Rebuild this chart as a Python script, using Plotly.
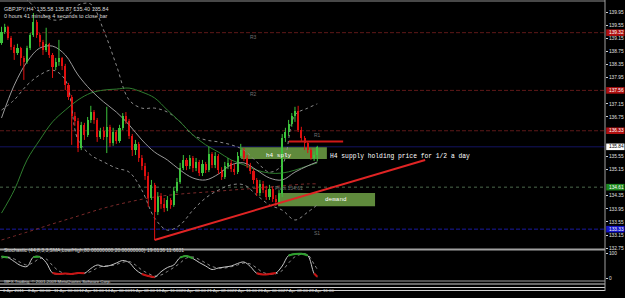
import plotly.graph_objects as go

# ---------------- data ----------------
first_open = 139.01
close = [139.34, 139.50, 139.16, 138.89, 138.70, 138.86, 138.55, 138.43, 138.86, 139.25,
         139.65, 139.25, 139.04, 138.79, 138.98, 138.64, 138.28, 138.43, 138.55, 138.31,
         137.73, 137.36, 136.78, 136.63, 135.81, 136.51, 136.20, 136.66, 136.90, 136.66,
         136.14, 136.32, 136.14, 136.45, 135.96, 136.29, 136.02, 136.42, 136.78, 136.63,
         136.17, 135.74, 135.93, 135.50, 135.26, 134.95, 134.28, 134.68, 133.85, 134.34,
         134.10, 133.98, 134.22, 134.07, 134.49, 134.77, 135.19, 135.44, 135.26, 135.50,
         135.19, 135.38, 135.04, 135.32, 135.13, 135.62, 135.29, 135.56, 135.13, 134.92,
         135.26, 135.35, 135.16, 135.07, 135.56, 135.74, 135.50, 135.29, 135.10, 134.83,
         134.43, 134.71, 134.52, 134.31, 134.55, 134.25, 134.16, 134.40, 136.11, 136.29,
         136.54, 136.78, 136.93, 136.35, 136.11, 135.96, 135.74, 135.50, 135.58, 135.84]
high = [139.50, 139.59, 139.53, 139.22, 138.95, 138.98, 138.89, 138.61, 138.92, 139.31,
        139.92, 139.71, 139.31, 139.10, 139.47, 139.01, 138.70, 138.55, 139.10, 138.58,
        138.37, 137.79, 137.42, 136.90, 136.72, 136.60, 136.57, 136.75, 137.09, 136.96,
        136.72, 136.42, 136.45, 137.06, 136.51, 136.42, 136.35, 136.51, 136.87, 136.90,
        136.69, 136.23, 136.05, 135.99, 135.59, 135.35, 135.07, 134.83, 134.74, 134.46,
        134.43, 134.28, 134.34, 134.28, 134.62, 134.89, 135.35, 135.59, 135.50, 135.59,
        135.56, 135.50, 135.44, 135.44, 135.38, 135.84, 135.68, 135.68, 135.62, 135.22,
        135.38, 135.50, 135.44, 135.32, 135.68, 135.93, 135.80, 135.59, 135.35, 135.16,
        134.89, 134.83, 134.80, 134.65, 134.68, 134.62, 134.37, 134.52, 136.23, 136.42,
        136.66, 136.87, 137.06, 137.09, 136.45, 136.17, 135.99, 135.80, 135.70, 135.87]
low = [138.95, 139.28, 139.10, 138.79, 138.49, 138.64, 138.31, 137.88, 138.37, 138.79,
       139.19, 139.16, 138.89, 138.64, 138.73, 138.55, 137.94, 138.18, 138.31, 138.18,
       137.57, 137.27, 135.90, 136.48, 135.68, 135.74, 136.05, 136.14, 136.57, 136.54,
       135.99, 136.08, 136.05, 135.65, 135.84, 135.87, 135.93, 135.96, 136.35, 136.54,
       136.08, 135.56, 135.59, 135.38, 135.13, 134.83, 134.01, 134.22, 133.00, 133.76,
       133.95, 133.85, 133.88, 133.95, 134.01, 134.43, 134.71, 135.13, 135.13, 135.16,
       135.07, 135.10, 134.95, 134.95, 135.04, 135.07, 135.19, 135.19, 135.01, 134.83,
       134.86, 135.16, 135.07, 134.98, 135.01, 135.50, 135.41, 135.19, 135.01, 134.71,
       134.34, 134.34, 134.43, 134.22, 134.22, 134.16, 134.04, 134.07, 134.31, 135.99,
       136.17, 136.45, 136.60, 136.29, 136.02, 135.74, 135.65, 135.44, 135.41, 135.40]

# indicator lines sampled at these bars
ind_idx = [0, 4, 8, 12, 16, 20, 24, 28, 32, 36, 40, 44, 48, 52, 56, 60, 64, 68, 72, 76, 80, 84, 88, 92, 96, 99]
ma_fast = [136.72, 137.72, 138.43, 138.85, 138.91, 138.64, 138.03, 137.57, 137.21, 136.90, 136.51, 136.05, 135.68,
           135.44, 135.13, 134.89, 134.83, 135.01, 135.29, 135.35, 135.13, 134.89, 134.83, 135.07, 135.26, 135.38]
ma_slow = [133.82, 134.52, 135.44, 136.05, 136.60, 136.96, 137.27, 137.48, 137.57, 137.60, 137.63, 137.51, 137.33,
           136.96, 136.60, 136.20, 135.90, 135.68, 135.44, 135.29, 135.13, 135.04, 135.04, 135.13, 135.26, 135.35]
bb_upper = [140.93, 140.62, 140.32, 139.95, 139.71, 139.77, 140.16, 140.19, 139.40, 138.33, 137.27, 137.02, 137.02,
            136.90, 136.60, 136.20, 136.05, 135.99, 135.90, 135.74, 135.38, 135.07, 135.29, 136.81, 137.02, 137.15]
bb_lower = [136.96, 137.27, 137.72, 138.03, 138.18, 137.88, 136.05, 135.59, 135.38, 135.19, 135.07, 134.52, 133.67,
            133.30, 133.46, 133.91, 134.28, 134.52, 134.68, 134.68, 134.37, 134.07, 133.91, 133.61, 133.85, 134.07]
ma_long_idx = [0, 8, 16, 24, 32, 40, 48, 56, 64, 72, 80, 88, 96, 99]
ma_long = [133.00, 133.24, 133.49, 133.73, 133.97, 134.16, 134.31, 134.40, 134.46, 134.52, 134.58, 134.65, 134.71, 134.71]

# stochastic
st_idx = list(range(0, 100, 2)) + [99]
st_k = [86, 82, 66, 50, 46, 84, 85, 62, 20, 16, 18, 16, 20, 19, 38, 52, 46, 50, 60, 70,
        62, 34, 16, 8, 3, 25, 42, 52, 82, 88, 78, 62, 48, 34, 40, 44, 48, 58, 64, 46,
        19, 14, 16, 20, 48, 90, 96, 97, 90, 18, 5]
st_d = [80, 84, 76, 62, 52, 62, 78, 76, 50, 28, 18, 17, 18, 19, 26, 40, 48, 49, 54, 63,
        66, 52, 32, 18, 8, 12, 26, 42, 60, 80, 84, 74, 60, 46, 40, 40, 45, 52, 60, 56,
        40, 22, 16, 17, 30, 60, 85, 95, 93, 55, 35]

# pivot levels
pivots = {"R3": 139.32, "R2": 137.56, "R1": 136.33, "Pivot": 134.61, "S1": 133.33}
bid = 135.84

date_idx = [0, 8, 16, 24, 32, 40, 48, 56, 64, 72, 80, 88, 96]
date_lbl = ["6 Apr 2011", "8 Apr 00:00", "11 Apr 00:00", "12 Apr 16:00", "14 Apr 00:00", "15 Apr 08:00",
            "18 Apr 16:00", "20 Apr 00:00", "21 Apr 08:00", "22 Apr 16:00", "26 Apr 00:00", "27 Apr 08:00",
            "28 Apr 16:00"]
price_ticks = [139.95, 139.55, 139.15, 138.75, 138.35, 137.95, 137.15, 136.75,
               135.55, 135.15, 134.35, 133.95, 133.55, 133.15, 132.75]

# drawn objects
supply_zone = dict(x0=75.1, x1=102.0, y0=135.47, y1=135.83)
demand_zone = dict(x0=86.7, x1=117.1, y0=134.03, y1=134.43)
red_level = dict(x0=90.1, x1=107.1, y=136.00)
trend = dict(x0=48, y0=133.00, x1=132.8, y1=135.44)

# ---------------- figure ----------------
n = len(close)
idx = list(range(n))
opens = [first_open] + close[:-1]

UP = "#3cc43c"
DN = "#e01010"

W = 625
H = 298
PR = 20
PB = 7
PW = W - PR
PH = H - PB
XR = [-0.47, -0.47 + PW / 3.19]

fig = go.Figure()

# indicator lines (behind candles)
fig.add_trace(go.Scatter(x=ma_long_idx, y=ma_long, mode="lines", line=dict(color="#7a2a2a", width=1, dash="dot", shape="spline"), hoverinfo="skip"))
fig.add_trace(go.Scatter(x=ind_idx, y=bb_upper, mode="lines", line=dict(color="#8a8a8a", width=1, dash="dot", shape="spline"), hoverinfo="skip"))
fig.add_trace(go.Scatter(x=ind_idx, y=bb_lower, mode="lines", line=dict(color="#8a8a8a", width=1, dash="dot", shape="spline"), hoverinfo="skip"))
fig.add_trace(go.Scatter(x=ind_idx, y=ma_slow, mode="lines", line=dict(color="#2f7d2f", width=1, shape="spline"), hoverinfo="skip"))
fig.add_trace(go.Scatter(x=ind_idx, y=ma_fast, mode="lines", line=dict(color="#9a9a9a", width=1, shape="spline"), hoverinfo="skip"))

# candles: wicks
for col, up in ((UP, True), (DN, False)):
    wx, wy = [], []
    for i in idx:
        if (close[i] >= opens[i]) == up:
            wx += [i, i, None]
            wy += [low[i], high[i], None]
    fig.add_trace(go.Scatter(x=wx, y=wy, mode="lines", line=dict(color=col, width=1), hoverinfo="skip"))

# candles: bodies
bodies_base = [min(o, c) for o, c in zip(opens, close)]
bodies_h = [max(abs(c - o), 0.02) for o, c in zip(opens, close)]
bcol = [UP if c >= o else DN for o, c in zip(opens, close)]
fig.add_trace(go.Bar(x=idx, y=bodies_h, base=bodies_base, width=0.66, marker=dict(color=bcol, line=dict(width=0)), hoverinfo="skip"))

# stochastic
fig.add_trace(go.Scatter(x=st_idx, y=st_d, yaxis="y2", mode="lines", line=dict(color="#8a8a8a", width=1, dash="dot", shape="spline"), hoverinfo="skip"))
fig.add_trace(go.Scatter(x=st_idx, y=st_k, yaxis="y2", mode="lines", line=dict(color="#c8c8c8", width=1, shape="spline"), hoverinfo="skip"))
st_hi = [v if v >= 78 else None for v in st_k]
st_lo = [v if v <= 20 else None for v in st_k]
fig.add_trace(go.Scatter(x=st_idx, y=st_hi, yaxis="y2", mode="lines", line=dict(color="#2ea02e", width=2, shape="spline"), connectgaps=False, hoverinfo="skip"))
fig.add_trace(go.Scatter(x=st_idx, y=st_lo, yaxis="y2", mode="lines", line=dict(color="#c81414", width=2, shape="spline"), connectgaps=False, hoverinfo="skip"))


def py(pix):
    return 1 - pix / PH


shapes = []
# pivot lines
for name, lvl in pivots.items():
    if name.startswith("R"):
        c, d = "#5e1818", "4px,2px"
    elif name == "Pivot":
        c, d = "#4d6a4d", "dot"
    else:
        c, d = "#1a1aa0", "4px,2px"
    shapes.append(dict(type="line", xref="paper", x0=0, x1=1, yref="y", y0=lvl, y1=lvl, layer="below", line=dict(color=c, width=1, dash=d)))
shapes.append(dict(type="line", xref="paper", x0=0, x1=1, yref="y", y0=bid, y1=bid, layer="below", line=dict(color="#141460", width=1)))
# zones
zc = "#5f8a3c"
shapes.append(dict(type="rect", xref="x", yref="y", layer="below", fillcolor=zc, line=dict(width=0), **supply_zone))
shapes.append(dict(type="rect", xref="x", yref="y", layer="below", fillcolor=zc, line=dict(width=0), **demand_zone))
shapes.append(dict(type="line", xref="x", yref="y", x0=red_level["x0"], x1=red_level["x1"], y0=red_level["y"], y1=red_level["y"], line=dict(color="#d01818", width=2)))
shapes.append(dict(type="line", xref="x", yref="y", line=dict(color="#e02424", width=2), **trend))
# panel frames
for pix, col, w in ((1, "#909090", 1), (249.5, "#a0a0a0", 2), (281, "#a0a0a0", 1), (284, "#d0d0d0", 1), (287.5, "#d0d0d0", 1), (290.5, "#d0d0d0", 1)):
    shapes.append(dict(type="line", xref="paper", x0=0, x1=1, yref="paper", y0=py(pix), y1=py(pix), line=dict(color=col, width=w)))
shapes.append(dict(type="line", xref="paper", x0=1, x1=1, yref="paper", y0=py(291), y1=py(0), line=dict(color="#a0a0a0", width=1)))

# price boxes on right axis
annotations = []
box_w = (PR - 0.5) / PW
for lvl, bg, fg in ((pivots["R3"], "#b01010", "#ffffff"), (pivots["R2"], "#b01010", "#ffffff"), (pivots["R1"], "#b01010", "#ffffff"),
                    (bid, "#ffffff", "#000000"), (pivots["Pivot"], "#1f8a1f", "#ffffff"), (pivots["S1"], "#1515c8", "#ffffff")):
    shapes.append(dict(type="rect", xref="paper", x0=1.002, x1=1 + box_w, yref="y", y0=lvl - 0.1, y1=lvl + 0.1, fillcolor=bg, line=dict(width=0)))
    annotations.append(dict(xref="paper", x=1.004, yref="y", y=lvl, text=f"{lvl:.2f}", showarrow=False, xanchor="left",
                            font=dict(size=4.8, color=fg, family="Liberation Sans")))

small = dict(size=5.5, color="#d8d8d8", family="Liberation Sans")
annotations += [
    dict(xref="paper", x=0.004, yref="paper", y=py(4), text="GBPJPY,H4  135.58 135.87 135.40 135.84", showarrow=False, xanchor="left", font=small),
    dict(xref="paper", x=0.004, yref="paper", y=py(11), text="0 hours 41 minutes 4 seconds to close bar", showarrow=False, xanchor="left", font=small),
    dict(xref="paper", x=0.004, yref="paper", y=py(255), text="Stochastic (44,8,3,3,SMA,Low/High,80.00000000,20.00000000) 19.0136 11.6631", showarrow=False, xanchor="left", font=dict(size=5, color="#d0d0d0", family="Liberation Sans")),
    dict(xref="paper", x=0.004, yref="paper", y=py(285.8), text="IBFX Trading, © 2001-2009 MetaQuotes Software Corp.", showarrow=False, xanchor="left", font=dict(size=4.3, color="#d0d0d0", family="Liberation Sans")),
]
for i, t in zip(date_idx, date_lbl):
    annotations.append(dict(x=i, xref="x", yref="paper", y=py(294.5), text=t, showarrow=False, xanchor="left", xshift=-1,
                            font=dict(size=4.4, color="#d8d8d8", family="Liberation Sans")))

lab = dict(size=5, color="#707070", family="Liberation Sans")
annotations += [
    dict(x=79, y=pivots["R3"], text="R3", showarrow=False, yshift=-4, font=lab),
    dict(x=79, y=pivots["R2"], text="R2", showarrow=False, yshift=-4, font=lab),
    dict(x=99, y=pivots["R1"], text="R1", showarrow=False, yshift=-4, font=lab),
    dict(x=90, y=pivots["Pivot"], text="Pivot 134.61", showarrow=False, yshift=-1, font=lab),
    dict(x=99, y=pivots["S1"], text="S1", showarrow=False, yshift=-4, font=lab),
    dict(x=87, y=(supply_zone["y0"] + supply_zone["y1"]) / 2, text="h4 sply", showarrow=False, yshift=-2,
         font=dict(size=6, color="#ffffff", family="Liberation Mono")),
    dict(x=105, y=(demand_zone["y0"] + demand_zone["y1"]) / 2, text="demand", showarrow=False,
         font=dict(size=6, color="#ffffff", family="Liberation Mono")),
    dict(x=102.3, y=135.53, text="H4 supply holding price for 1/2 a day", showarrow=False, xanchor="left",
         font=dict(size=6.3, color="#ffffff", family="Liberation Mono")),
]

fig.update_layout(
    width=W, height=H,
    margin=dict(l=0, r=PR, t=0, b=PB, autoexpand=False),
    paper_bgcolor="#000000", plot_bgcolor="#000000",
    showlegend=False, bargap=0, barmode="overlay",
    xaxis=dict(range=XR, showgrid=False, zeroline=False, showticklabels=False, ticks="", showline=False, automargin=False),
    yaxis=dict(domain=[py(249), 1], range=[132.725, 140.316], side="right", showgrid=False, zeroline=False, automargin=False,
               tickvals=price_ticks, ticktext=[f"{v:.2f}" for v in price_ticks], ticks="outside", ticklen=2,
               tickcolor="#d0d0d0", tickfont=dict(size=4.8, color="#e0e0e0", family="Liberation Sans"), showline=False),
    yaxis2=dict(domain=[py(281), py(251)], range=[-12, 108], side="right", anchor="x", showgrid=False, zeroline=False, automargin=False,
                tickvals=[100, 0], ticktext=["100", "0"], ticks="outside", ticklen=2, tickcolor="#d0d0d0",
                tickfont=dict(size=4.8, color="#e0e0e0", family="Liberation Sans"), showline=False),
    shapes=shapes, annotations=annotations,
)

fig.write_html("out.html")
